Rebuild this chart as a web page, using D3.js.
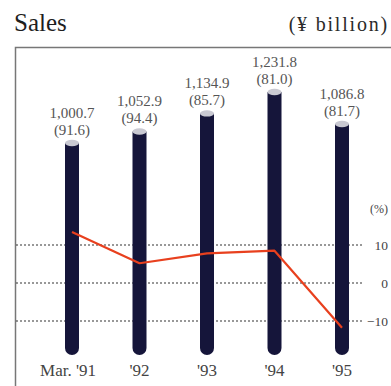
<!DOCTYPE html>
<html>
<head>
<meta charset="utf-8">
<script src="https://cdn.jsdelivr.net/npm/d3@7/dist/d3.min.js"></script>
<style>
  html, body { margin: 0; padding: 0; background: #fff; }
  svg { display: block; }
  text { font-family: "Liberation Serif", "Times New Roman", serif; }
</style>
</head>
<body>
<svg id="chart" width="391" height="386"></svg>
<script>
// Fiscal years (March year-end)
const years = ["Mar. '91", "'92", "'93", "'94", "'95"];
// Sales, ¥ billion
const sales = [1000.7, 1052.9, 1134.9, 1231.8, 1086.8];
// Figures in parentheses under each sales value
const ratios = [91.6, 94.4, 85.7, 81.0, 81.7];
// Year-on-year change in sales, %
const growth = [13.4, 5.2, 7.8, 8.5, -11.8];
// Right-hand percentage axis ticks
const pctTicks = [10, 0, -10];

const svg = d3.select("#chart");

const x = d3.scalePoint().domain(years).range([72, 342]);
const yBar = d3.scaleLinear().domain([40, 1250]).range([355, 88]);
const yPct = d3.scaleLinear().domain([-10, 10]).range([321, 245]);

const barW = 14;
const navy = "#15153a";

// Title
svg.append("text").attr("x", 14).attr("y", 31)
  .attr("font-size", 25).attr("fill", "#1e1e1e").text("Sales");
svg.append("text").attr("x", 389).attr("y", 31).attr("text-anchor", "end")
  .attr("font-size", 20).attr("letter-spacing", 1.8).attr("fill", "#2a2a2a")
  .text("(¥ billion)");

// Frame (top and left edges)
svg.append("path")
  .attr("d", "M15.5,386 V47.5 H391")
  .attr("fill", "none").attr("stroke", "#777").attr("stroke-width", 1.5);

// Dotted percentage grid
svg.append("g").selectAll("line").data(pctTicks).join("line")
  .attr("x1", 16).attr("x2", 363)
  .attr("y1", d => yPct(d)).attr("y2", d => yPct(d))
  .attr("stroke", "#333").attr("stroke-width", 1.1)
  .attr("stroke-dasharray", "2,2");

// Bars: rounded bottom, light elliptical cap on top
const bars = svg.append("g").selectAll("g").data(years).join("g");
bars.append("path")
  .attr("d", (d, i) => {
    const cx = x(d), top = yBar(sales[i]), bot = yBar.range()[0];
    const r = barW / 2;
    return `M${cx - r},${top} V${bot - r} A${r},${r} 0 0 0 ${cx + r},${bot - r} V${top} Z`;
  })
  .attr("fill", navy);
bars.append("ellipse")
  .attr("cx", d => x(d))
  .attr("cy", (d, i) => yBar(sales[i]))
  .attr("rx", barW / 2).attr("ry", 3.2)
  .attr("fill", "#c9c9d2");

// Value labels above bars
const fmt = d3.format(",.1f");
bars.append("text")
  .attr("x", d => x(d)).attr("y", (d, i) => yBar(sales[i]) - 25)
  .attr("text-anchor", "middle").attr("font-size", 15).attr("fill", "#555")
  .text((d, i) => fmt(sales[i]));
bars.append("text")
  .attr("x", d => x(d)).attr("y", (d, i) => yBar(sales[i]) - 8)
  .attr("text-anchor", "middle").attr("font-size", 15).attr("fill", "#555")
  .text((d, i) => `(${ratios[i].toFixed(1)})`);

// Growth line
svg.append("path")
  .datum(growth)
  .attr("d", d3.line().x((d, i) => x(years[i])).y(d => yPct(d)))
  .attr("fill", "none").attr("stroke", "#e8401e").attr("stroke-width", 2.2)
  .attr("stroke-linejoin", "round");

// Percentage axis labels
svg.append("g").selectAll("text").data(pctTicks).join("text")
  .attr("x", 388).attr("y", d => yPct(d) + 5)
  .attr("text-anchor", "end").attr("font-size", 13.5).attr("fill", "#444")
  .text(d => d3.format("d")(d));
svg.append("text").attr("x", 388).attr("y", 213)
  .attr("text-anchor", "end").attr("font-size", 12).attr("fill", "#444")
  .text("(%)");

// Year labels
svg.append("g").selectAll("text").data(years).join("text")
  .attr("x", (d, i) => i === 0 ? x(d) - 4 : x(d))
  .attr("y", 376)
  .attr("text-anchor", "middle").attr("font-size", 17).attr("fill", "#444")
  .text(d => d);
</script>
</body>
</html>
